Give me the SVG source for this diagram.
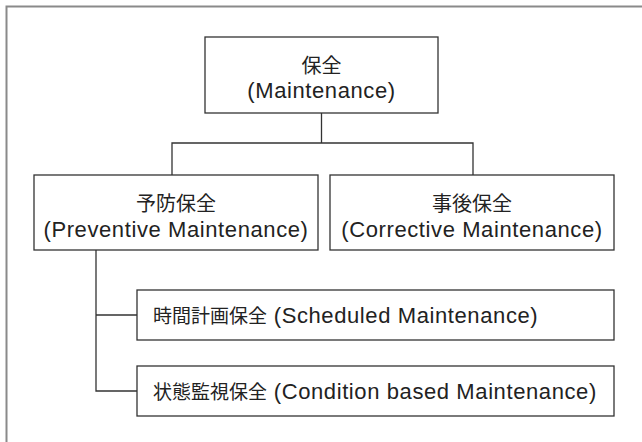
<svg xmlns="http://www.w3.org/2000/svg" width="642" height="442" viewBox="0 0 642 442">
<style>
.frame{stroke:#8a8a8a;stroke-width:2;fill:none}
.box{fill:#fff;stroke:#333;stroke-width:1.3}
.conn{fill:none;stroke:#333;stroke-width:1.3}
text{font-family:"Liberation Sans","Noto Sans CJK JP",sans-serif;font-size:22px;letter-spacing:0.6px;fill:#222}
.j{font-family:"Noto Sans CJK JP",sans-serif;font-size:20px;letter-spacing:0}
.js{font-family:"Noto Sans CJK JP",sans-serif;font-size:19px;letter-spacing:0}
.c{text-anchor:middle}
</style>
<rect width="642" height="442" fill="#fff"/>
<path class="frame" d="M6.5,442 V6.5 H642"/>
<g id="connectors">
<path class="conn" d="M321.5,113 V143 M172,175 V143 H473 V175"/>
<path class="conn" d="M96,250 V391 H137 M96,315 H137"/>
</g>
<g id="maintenance">
<rect class="box" x="205" y="37" width="233" height="76"/>
<text class="c j" x="321.5" y="73">保全</text>
<text class="c" x="321.5" y="98">(Maintenance)</text>
</g>
<g id="preventive">
<rect class="box" x="34" y="175" width="284" height="75"/>
<text class="c j" x="176" y="211">予防保全</text>
<text class="c" x="176" y="237">(Preventive Maintenance)</text>
</g>
<g id="corrective">
<rect class="box" x="330" y="175" width="284" height="75"/>
<text class="c j" x="472" y="211">事後保全</text>
<text class="c" x="472" y="237">(Corrective Maintenance)</text>
</g>
<g id="scheduled">
<rect class="box" x="137" y="290" width="477" height="50"/>
<text x="153" y="323"><tspan class="js">時間計画保全</tspan> (Scheduled Maintenance)</text>
</g>
<g id="condition">
<rect class="box" x="137" y="366" width="477" height="50"/>
<text x="153" y="399"><tspan class="js">状態監視保全</tspan> (Condition based Maintenance)</text>
</g>
</svg>
